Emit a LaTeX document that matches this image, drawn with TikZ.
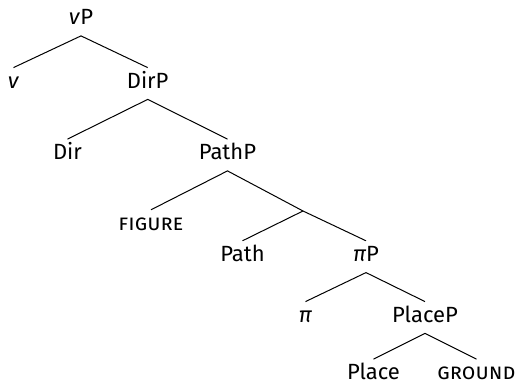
\documentclass[tikz,border=0pt]{standalone}
\usepackage{fontspec}
\setmainfont{Fira Sans}
\tikzset{
  lbl/.style={anchor=base,inner xsep=0pt,inner ysep=2.25pt,
    text height=8pt,text depth=3pt},
  branch/.style={line width=0.5pt}
}
\begin{document}
\begin{tikzpicture}[x=0.5pt,y=-0.5pt,font=\fontsize{11}{13}\selectfont]
  \useasboundingbox (0,0) rectangle (521,383);
  % labels, placed on their baselines
  \node[lbl] (vP) at (81,25) {\textit{v}P};
  \node[lbl] (v) at (13.5,88.5) {\textit{v}};
  \node[lbl] (DirP) at (147.7,88.5) {DirP};
  \node[lbl] (Dir) at (67.5,160) {Dir};
  \node[lbl] (PathP) at (227.5,160) {PathP};
  \node[lbl] (figure) at (151,230.7) {\textsc{figure}};
  \coordinate (pathbar) at (303,211);
  \node[lbl] (Path) at (242.5,261.7) {Path};
  \node[lbl] (piP) at (366,261.7) {\textit{π}P};
  \node[lbl] (pi) at (305.5,322.5) {\textit{π}};
  \node[lbl] (PlaceP) at (425,322.5) {PlaceP};
  \node[lbl] (Place) at (373.5,380) {Place};
  \node[lbl] (ground) at (476.5,380) {\textsc{ground}};

  % branches
  \draw[branch] (v.north) -- (vP.south) -- (DirP.north);
  \draw[branch] (Dir.north) -- (DirP.south) -- (PathP.north);
  \draw[branch] (figure.north) -- (PathP.south) -- (pathbar);
  \draw[branch] (Path.north) -- (pathbar) -- (piP.north);
  \draw[branch] (pi.north) -- (piP.south) -- (PlaceP.north);
  \draw[branch] (Place.north) -- (PlaceP.south) -- (ground.north);
\end{tikzpicture}
\end{document}
